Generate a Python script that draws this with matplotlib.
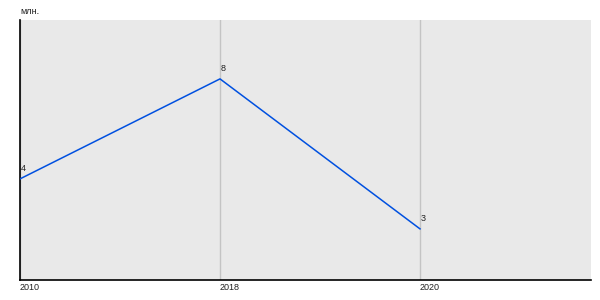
import matplotlib
matplotlib.use('Agg')
import matplotlib.pyplot as plt

# data (labels on the chart are rounded to whole numbers)
years = ['2010', '2018', '2020']
values = [4.4, 8.0, 2.6]
unit_label = 'млн.'

plt.rcParams['font.family'] = ['Liberation Sans', 'DejaVu Sans']

fig = plt.figure(figsize=(6, 3), dpi=100)
ax = fig.add_axes([20 / 600, 20 / 300, 571 / 600, 260 / 300])
ax.set_facecolor('#e9e9e9')

x = list(range(len(years)))
ax.plot(x, values, color='#0050e0', lw=1.1, zorder=3)

for xi, v in zip(x, values):
    ax.annotate(f'{v:.0f}', (xi, v), xytext=(0.8, 7.2), textcoords='offset points',
                ha='left', va='center', fontsize=6.5, color='#222222')

ax.set_xlim(0, 2.855)
ax.set_ylim(0.76, 10.12)
ax.set_xticks(x)
ax.set_xticklabels(years, fontsize=6.5, color='#222222')
for lbl in ax.get_xticklabels():
    lbl.set_horizontalalignment('left')
ax.tick_params(axis='x', length=0, pad=2.5)
ax.set_yticks([])
ax.grid(axis='x', color='#c4c4c4', lw=1)
ax.set_axisbelow(True)

for side in ['top', 'right']:
    ax.spines[side].set_visible(False)
for side in ['left', 'bottom']:
    ax.spines[side].set_color('black')
    ax.spines[side].set_linewidth(1.2)

fig.text(20 / 600, 1 - 12 / 300, unit_label, fontsize=6.5, color='#222222',
         ha='left', va='center')

fig.savefig('out.png', dpi=100)
